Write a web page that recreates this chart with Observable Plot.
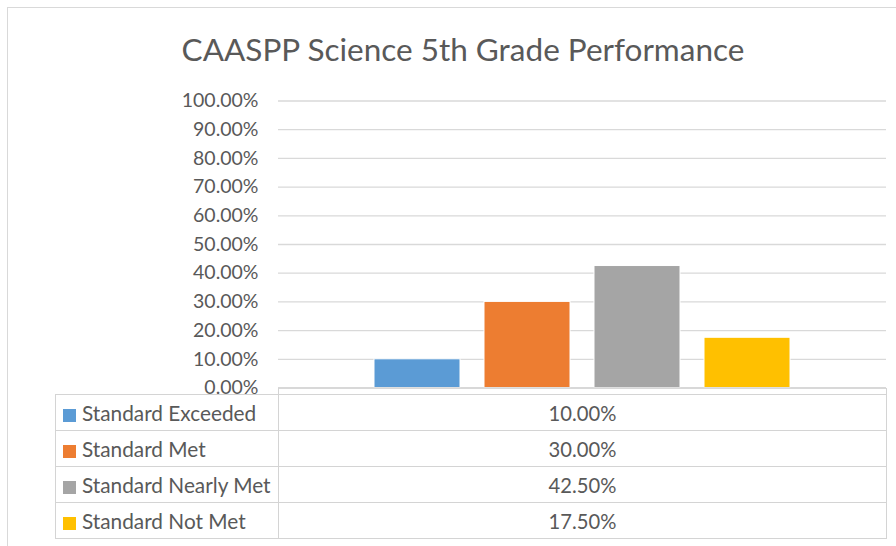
<!DOCTYPE html>
<html><head><meta charset="utf-8">
<script src="https://cdn.jsdelivr.net/npm/d3@7"></script>
<script src="https://cdn.jsdelivr.net/npm/@observablehq/plot@0.6"></script>
<style>
html,body{margin:0;padding:0;background:#fff;width:896px;height:546px;overflow:hidden;font-family:Lato,"Open Sans",sans-serif;color:#595959;}
#frame{position:absolute;left:7px;top:7px;width:1000px;height:1000px;border:1px solid #d9d9d9;box-sizing:border-box;}
#title{position:absolute;left:0;top:29px;width:926px;line-height:40px;text-align:center;font-size:31.5px;color:#595959;}
#chart{position:absolute;left:0;top:85px;}
#chart svg{overflow:visible;}
#tbl{position:absolute;left:55px;top:388px;border-collapse:collapse;table-layout:fixed;width:831px;font-size:20.8px;color:#595959;}
#tbl td{padding:0;white-space:nowrap;}
#tbl tr.hd td{height:6px;}
#tbl tr.hd td.v{border-left:1px solid #d4d4d4;border-right:1px solid #d4d4d4;}
#tbl tr.row td{height:35px;border:1px solid #d4d4d4;}
#tbl td.val{text-align:center;font-size:20.2px;}
.sw{display:inline-block;width:13px;height:13px;margin-left:7px;margin-right:6px;vertical-align:-1px;}
</style>
</head><body>
<div id="frame"></div>
<div id="title">CAASPP Science 5th Grade Performance</div>
<div id="chart"></div>
<table id="tbl"><colgroup><col style="width:223px"><col style="width:608px"></colgroup><tbody id="tb"></tbody></table>
<script>
const series = ["Standard Exceeded", "Standard Met", "Standard Nearly Met", "Standard Not Met"];
const values = [0.10, 0.30, 0.425, 0.175];
const colors = ["#5B9BD5", "#ED7D31", "#A5A5A5", "#FFC000"];
const yTicks = [0, 0.1, 0.2, 0.3, 0.4, 0.5, 0.6, 0.7, 0.8, 0.9, 1.0];

const data = series.map((s, i) => ({series: s, value: values[i]}));
const pct = d => (d * 100).toFixed(2) + "%";

const chart = Plot.plot({
  width: 896, height: 310,
  marginTop: 15.5, marginBottom: 7.5, marginLeft: 278, marginRight: 10,
  x: {domain: series, paddingInner: 0.216, paddingOuter: 0.87, axis: null},
  y: {domain: [0, 1], axis: null, label: null},
  color: {domain: series, range: colors},
  style: {fontFamily: "Lato, 'Open Sans', sans-serif", color: "#595959", background: "transparent", overflow: "visible"},
  marks: [
    Plot.gridY(yTicks, {stroke: "#d9d9d9", strokeOpacity: 1, strokeWidth: 1.3}),
    Plot.axisY(yTicks, {tickSize: 0, tickPadding: 20, tickFormat: pct, fontSize: 19.5, fill: "#595959", label: null}),
    Plot.barY(data, {x: "series", y: "value", fill: "series", stroke: "white", strokeWidth: 1}),
    Plot.ruleY([0], {stroke: "#d4d4d4", strokeWidth: 1.3})
  ]
});
document.getElementById("chart").appendChild(chart);

const tb = document.getElementById("tb");
const hd = document.createElement("tr");
hd.className = "hd";
hd.innerHTML = '<td></td><td class="v"></td>';
tb.appendChild(hd);
series.forEach((s, i) => {
  const tr = document.createElement("tr");
  tr.className = "row";
  const c1 = document.createElement("td");
  const sw = document.createElement("span");
  sw.className = "sw";
  sw.style.background = colors[i];
  c1.appendChild(sw);
  c1.appendChild(document.createTextNode(s));
  const c2 = document.createElement("td");
  c2.className = "val";
  c2.textContent = pct(values[i]);
  tr.appendChild(c1); tr.appendChild(c2);
  tb.appendChild(tr);
});
</script>
</body></html>
